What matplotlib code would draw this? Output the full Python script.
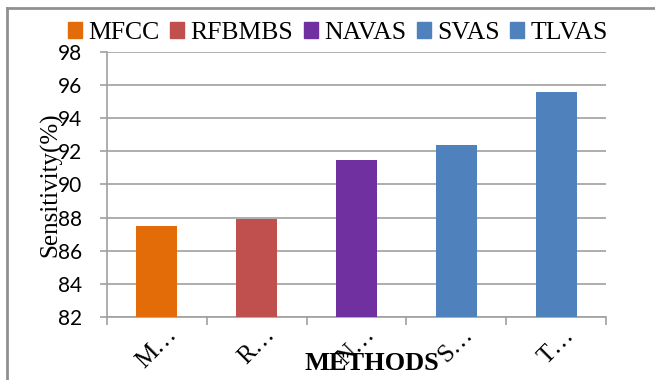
import matplotlib.pyplot as plt
import matplotlib.transforms as mtransforms
from matplotlib.patches import Patch
from matplotlib.lines import Line2D

methods = ["MFCC", "RFBMBS", "NAVAS", "SVAS", "TLVAS"]
tick_labels = ["M…", "R…", "N…", "S…", "T…"]
sensitivity = [87.5, 87.9, 91.5, 92.4, 95.6]
colors = ["#E36C09", "#C0504D", "#7030A0", "#4F81BD", "#4F81BD"]

fig = plt.figure(figsize=(6.55, 3.8), dpi=100)
ax = fig.add_axes([0.1634, 0.1658, 0.7618, 0.6974])

x = list(range(len(methods)))
ax.bar(x, [v - 82 for v in sensitivity], bottom=82, width=0.41, color=colors, zorder=3)

ax.set_xlim(-0.5, 4.5)
ax.set_ylim(82, 98)
ax.set_yticks(range(82, 99, 2))
ax.grid(axis='y', color='#a0a0a0', linewidth=1.2, zorder=0)

for side in ['top', 'right']:
    ax.spines[side].set_visible(False)
for side in ['left', 'bottom']:
    ax.spines[side].set_color('#a0a0a0')
    ax.spines[side].set_linewidth(1.2)

ax.set_xticks(x)
ax.set_xticklabels(tick_labels, rotation=45, ha='center', va='top',
                   fontsize=18, family='Liberation Serif')
shift = mtransforms.ScaledTranslation(5 / 100, 0, fig.dpi_scale_trans)
for lbl in ax.get_xticklabels():
    lbl.set_transform(lbl.get_transform() + shift)
ax.set_xticks([i - 0.5 for i in range(len(methods) + 1)], minor=True)
ax.tick_params(axis='x', which='major', length=0, pad=5)
ax.tick_params(axis='x', which='minor', length=6, color='#a0a0a0', width=1.2)
ax.tick_params(axis='y', length=5, color='#a0a0a0', width=1.2, labelsize=15, pad=13)
for lbl in ax.get_yticklabels():
    lbl.set_family('Lato')

ax.set_ylabel("Sensitivity(%)", family='Liberation Serif', fontsize=18)
ax.yaxis.set_label_coords(-0.112, 0.5)
ax.yaxis.label.set_va('center')
ax.set_xlabel("METHODS", family='Liberation Serif', fontsize=19, fontweight='bold')
ax.xaxis.set_label_coords(0.53, -0.175)
ax.xaxis.label.set_va('center')

handles = [Patch(color=c) for c in colors]
fig.legend(handles, methods, loc='center', bbox_to_anchor=(0.516, 0.913), ncol=5,
           frameon=False, handlelength=0.55, handleheight=0.55, handletextpad=0.25,
           columnspacing=0.4, borderpad=0, prop={'family': 'Liberation Serif', 'size': 18.5})

# outer chart frame
fig.add_artist(Line2D([0.0107, 0.0107], [0.0, 0.979], color='#909090', linewidth=2))
fig.add_artist(Line2D([0.0107, 1.0], [0.979, 0.979], color='#909090', linewidth=2))

fig.savefig("out.png", dpi=100)
